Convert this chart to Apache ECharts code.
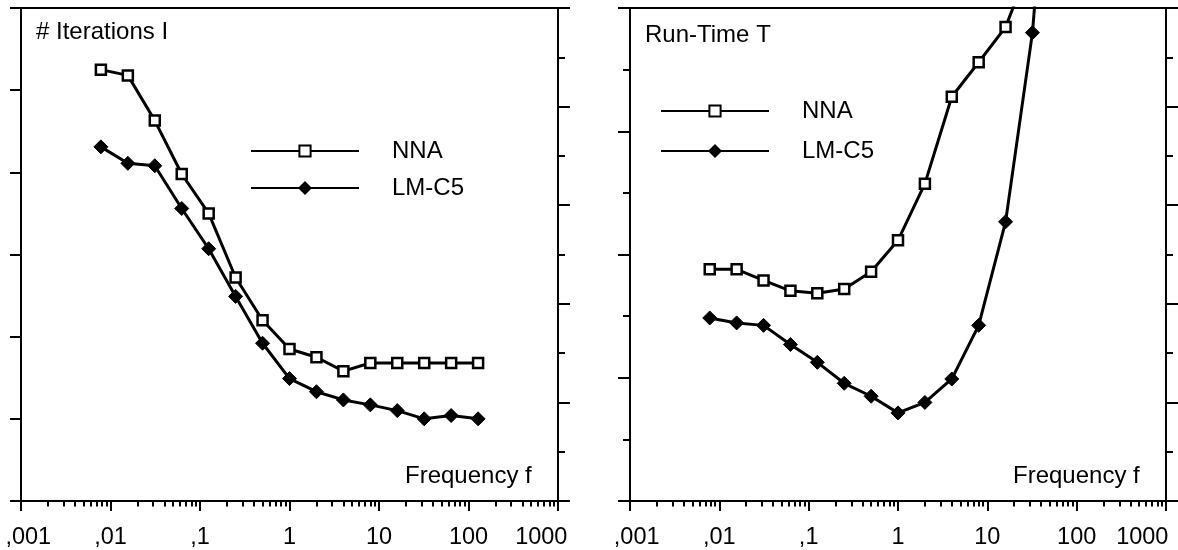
<!DOCTYPE html>
<html><head><meta charset="utf-8">
<script src="https://cdn.jsdelivr.net/npm/echarts@6/dist/echarts.min.js"></script>
<style>html,body{margin:0;padding:0;background:#fff;}#c{width:1178px;height:550px;}</style>
</head><body><div id="c"></div>
<script>
// ---- data ----
const freqs = [0.0078125, 0.015625, 0.03125, 0.0625, 0.125, 0.25, 0.5, 1, 2, 4, 8, 16, 32, 64, 128];
const tickValues = [0.001, 0.01, 0.1, 1, 10, 100, 1000];
const tickLabels = [',001', ',01', ',1', '1', '10', '100', '1000'];
const seriesNames = ['NNA', 'LM-C5'];
const panelTitles = ['# Iterations I', 'Run-Time T'];
const xTitle = 'Frequency f';
// left panel: iterations (relative units)
const iterNNA = [52.5, 51.8, 46.3, 39.8, 35.0, 27.2, 22.0, 18.5, 17.5, 15.8, 16.8, 16.8, 16.8, 16.8, 16.8];
const iterLM  = [43.1, 41.1, 40.8, 35.6, 30.7, 24.9, 19.2, 14.9, 13.3, 12.3, 11.7, 11.0, 10.0, 10.4, 10.0];
// right panel: run-time (relative units), last values run off the top of the plot
const timeNNA = [37.6, 37.6, 35.8, 34.1, 33.7, 34.4, 37.2, 42.3, 51.5, 65.6, 71.2, 76.9, 88.2];
const timeLM  = [29.7, 28.9, 28.5, 25.4, 22.5, 19.1, 17.0, 14.3, 16.0, 19.8, 28.5, 45.3, 76.0, 130.0];

const FONT = "'Liberation Sans', Arial, Helvetica, sans-serif";
const BLACK = '#000';

function pairs(vals) { return vals.map((v, i) => [freqs[i], v]); }
function minorTickValues() {
  const r = [];
  for (let d = -3; d < 3; d++) for (let m = 2; m < 10; m++) r.push(+(m * Math.pow(10, d)).toPrecision(3));
  return r;
}
function labelFormatter(v) {
  const i = Math.round(Math.log10(v)) + 3;
  const t = tickLabels[i];
  if (i === 0) return '{f|' + t + '}';
  if (i === tickLabels.length - 1) return '{l|' + t + '}';
  return '{n|' + t + '}';
}
function richStyle(pad) {
  return { fontSize: 23.5, fontFamily: FONT, color: BLACK, padding: pad };
}
function mainX(grid, padFirst, padLast) {
  return {
    type: 'log', logBase: 10, gridIndex: grid, min: 0.001, max: 1000, position: 'bottom',
    axisLine: { show: true, onZero: false, lineStyle: { color: BLACK, width: 2 } },
    axisTick: { show: true, inside: false, length: 10, lineStyle: { color: BLACK, width: 2 }, customValues: tickValues },
    axisLabel: {
      show: true, customValues: tickValues, margin: 25, formatter: labelFormatter,
      rich: { f: richStyle([0, 0, 0, padFirst]), l: richStyle([0, padLast, 0, 0]), n: richStyle([0, 0, 0, 0]) }
    },
    splitLine: { show: false }, minorTick: { show: false }, minorSplitLine: { show: false }
  };
}
function minorX(grid) {
  return {
    type: 'log', logBase: 10, gridIndex: grid, min: 0.001, max: 1000, position: 'bottom',
    axisLine: { show: false, onZero: false },
    axisTick: { show: true, inside: false, length: 5.5, lineStyle: { color: BLACK, width: 2 }, customValues: minorTickValues() },
    axisLabel: { show: false }, splitLine: { show: false }
  };
}
function yAx(grid, pos, max, interval, len, minor) {
  return {
    type: 'value', gridIndex: grid, position: pos, min: 0, max: max, interval: interval,
    axisLine: { show: true, onZero: false, lineStyle: { color: BLACK, width: 2 } },
    axisTick: { show: true, inside: false, length: len, lineStyle: { color: BLACK, width: 2 } },
    minorTick: { show: !!minor, splitNumber: 2, length: 7, lineStyle: { color: BLACK, width: 2 } },
    axisLabel: { show: false }, splitLine: { show: false }, minorSplitLine: { show: false }
  };
}
function lineSeries(name, vals, xi, yi, square) {
  return {
    type: 'line', name: name, xAxisIndex: xi, yAxisIndex: yi, data: pairs(vals),
    clip: true, animation: false,
    symbol: square ? 'rect' : 'diamond', symbolSize: square ? 10 : 14,
    itemStyle: square ? { color: '#fff', borderColor: BLACK, borderWidth: 2.5 } : { color: BLACK, borderColor: BLACK, borderWidth: 1 },
    lineStyle: { color: BLACK, width: 3 },
    emphasis: { disabled: true }
  };
}
function legendAt(left, top, gap) {
  return {
    data: seriesNames, left: left, top: top, orient: 'vertical', padding: 0,
    itemWidth: 108, itemHeight: 14, itemGap: gap, selectedMode: false,
    textStyle: { fontSize: 24, fontFamily: FONT, color: BLACK, padding: [0, 0, 0, 28] },
    lineStyle: { width: 2, color: BLACK },
    itemStyle: { borderWidth: 2 }
  };
}
function text(str, x, y) {
  return { type: 'text', x: x, y: y, style: { text: str, fontSize: 24, fontFamily: FONT, fill: BLACK, verticalAlign: 'middle', align: 'left' } };
}

const chart = echarts.init(document.getElementById('c'), null, { renderer: 'canvas' });
chart.setOption({
  animation: false,
  backgroundColor: '#fff',
  grid: [
    { left: 21, top: 8, width: 537, height: 494, show: true, borderColor: BLACK, borderWidth: 2, backgroundColor: 'transparent' },
    { left: 630, top: 8, width: 536, height: 494, show: true, borderColor: BLACK, borderWidth: 2, backgroundColor: 'transparent' }
  ],
  xAxis: [mainX(0, 14.6, 33.4), minorX(0), mainX(1, 13.4, 47.4), minorX(1)],
  yAxis: [
    yAx(0, 'left', 60, 10, 11, false),
    yAx(0, 'right', 50, 10, 12, true),
    yAx(1, 'left', 80, 20, 12, true),
    yAx(1, 'right', 50, 10, 12, true)
  ],
  legend: [legendAt(250, 139, 13), legendAt(660, 99, 16)],
  graphic: [
    text(panelTitles[0], 36, 32),
    text(panelTitles[1], 645, 35),
    text(xTitle, 405, 476),
    text(xTitle, 1013, 476)
  ],
  series: [
    lineSeries(seriesNames[0], iterNNA, 0, 0, true),
    lineSeries(seriesNames[1], iterLM, 0, 0, false),
    lineSeries(seriesNames[0], timeNNA, 2, 2, true),
    lineSeries(seriesNames[1], timeLM, 2, 2, false)
  ]
});
</script></body></html>
